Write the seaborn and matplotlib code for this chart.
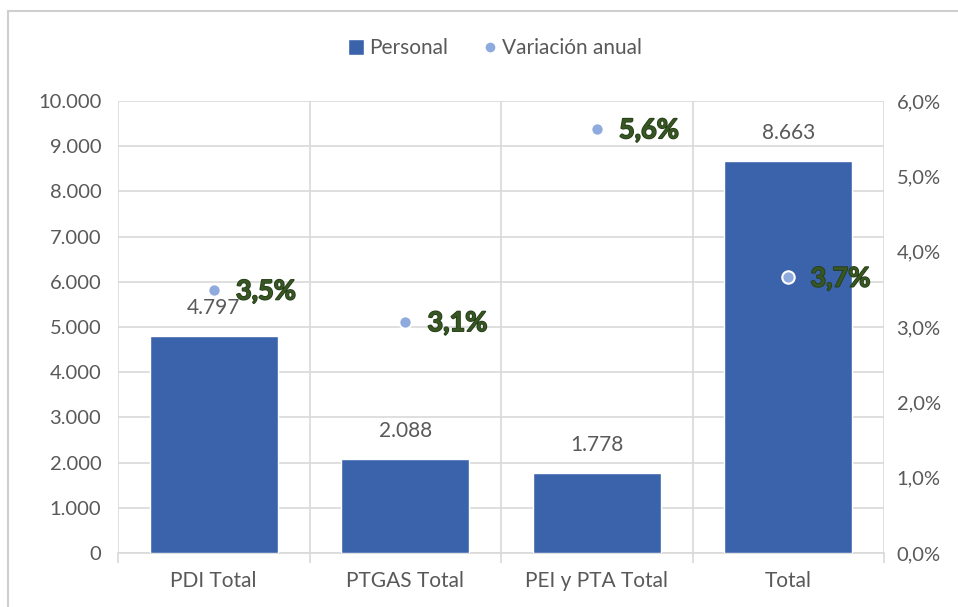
import matplotlib
matplotlib.use("Agg")
import matplotlib.pyplot as plt
import matplotlib.patheffects as pe
import seaborn as sns
import pandas as pd
import numpy as np
from matplotlib.ticker import FuncFormatter, FixedLocator
from matplotlib.lines import Line2D
from matplotlib.patches import Rectangle

categories = ["PDI Total", "PTGAS Total", "PEI y PTA Total", "Total"]
personal = [4797, 2088, 1778, 8663]
variacion = [3.49, 3.07, 5.63, 3.66]
variacion_labels = ["3,5%", "3,1%", "5,6%", "3,7%"]

sns.set_theme(style="white")
plt.rcParams['font.family'] = ['Lato', 'DejaVu Sans']

df = pd.DataFrame({"cat": categories, "personal": personal, "var": variacion})

W, H = 958, 607
fig = plt.figure(figsize=(W / 100, H / 100), dpi=100)
ax = fig.add_axes([118 / W, 1 - 553 / H, (884 - 118) / W, (553 - 101) / H])

bar_color = "#3B63AC"
dot_color = "#8FAADC"
grid_color = "#D9D9D9"
text_gray = "#595959"

sns.barplot(data=df, x="cat", y="personal", color=bar_color, width=0.67,
            saturation=1, ax=ax, zorder=3)
ax.set_ylim(0, 10000)
ax.set_xlim(-0.5, 3.5)
ax.set_yticks(np.arange(0, 10001, 1000))
ax.yaxis.set_major_formatter(FuncFormatter(lambda v, p: f"{int(v):,}".replace(",", ".")))
ax.set_xlabel("")
ax.set_ylabel("")
for s in ["left", "right", "top"]:
    ax.spines[s].set_visible(False)
ax.spines["bottom"].set_color(grid_color)
ax.spines["bottom"].set_linewidth(1.2)
ax.grid(axis="y", color=grid_color, linewidth=1.2, zorder=0)
for xb in [-0.5, 0.5, 1.5, 2.5, 3.5]:
    ax.axvline(xb, color=grid_color, linewidth=1.2, zorder=0)
ax.xaxis.set_minor_locator(FixedLocator([-0.5, 0.5, 1.5, 2.5, 3.5]))
ax.tick_params(axis="x", which="minor", length=7, color=grid_color, width=1.2, bottom=True)
ax.tick_params(axis="x", which="major", length=0, pad=13, labelsize=15, labelcolor=text_gray)
ax.tick_params(axis="y", length=0, pad=12, labelsize=14.5, labelcolor=text_gray)
ax.set_axisbelow(True)

for i, v in enumerate(personal):
    ax.annotate(f"{v:,}".replace(",", "."), (i, v), xytext=(0, 13), textcoords="offset points",
                ha="center", va="bottom", fontsize=15, color=text_gray)

ax2 = ax.twinx()
ax2.set_ylim(0, 6)
ax2.set_yticks(np.arange(0, 6.01, 1))
ax2.yaxis.set_major_formatter(FuncFormatter(lambda v, p: f"{v:.1f}%".replace(".", ",")))
ax2.tick_params(axis="y", length=0, pad=9, labelsize=14.5, labelcolor=text_gray)
for s in ["left", "right", "top", "bottom"]:
    ax2.spines[s].set_visible(False)
sns.scatterplot(data=df, x="cat", y="var", color=dot_color, s=80, edgecolor="white",
                linewidth=1.5, ax=ax2, zorder=5, legend=False)
ax2.set_xlim(-0.5, 3.5)
ax2.set_ylabel("")
ax2.set_xlabel("")

for i, (v, lab) in enumerate(zip(variacion, variacion_labels)):
    t = ax2.annotate(lab, (i, v), xytext=(16, -1), textcoords="offset points",
                     ha="left", va="center", fontsize=19.5, fontweight="bold", color="#375623")
    t.set_path_effects([pe.withStroke(linewidth=1.2, foreground="#253d17")])

handles = [Line2D([0], [0], marker="s", color="w", markerfacecolor=bar_color, markersize=11, linestyle=""),
           Line2D([0], [0], marker="o", color="w", markerfacecolor=dot_color, markersize=8, linestyle="")]
fig.legend(handles, ["Personal", "Variación anual"], loc="center", bbox_to_anchor=(493 / W, 1 - 48 / H),
           ncol=2, frameon=False, fontsize=15, labelcolor=text_gray, handletextpad=0.0,
           handlelength=1.2, columnspacing=1.4)

fig.patches.append(Rectangle((8 / W, -0.1), 1.2, 1 - 11 / H + 0.1, transform=fig.transFigure,
                             fill=False, edgecolor="#CFCFCF", linewidth=1.5))

fig.savefig("out.png", dpi=100)
